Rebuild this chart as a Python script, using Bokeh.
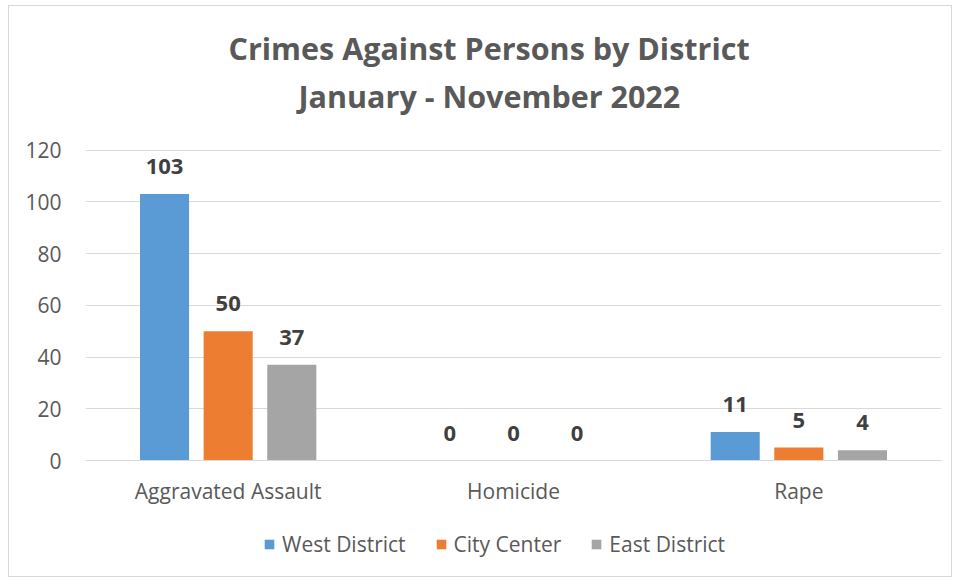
from bokeh.plotting import figure
from bokeh.models import (FactorRange, Range1d, Legend, LegendItem, Title,
                          ColumnDataSource, FixedTicker)
from bokeh.layouts import column
from bokeh.transform import dodge
from bokeh.core.properties import value
from bokeh.embed import file_html
from bokeh.resources import INLINE

categories = ["Aggravated Assault", "Homicide", "Rape"]
series = ["West District", "City Center", "East District"]
west = [103, 0, 11]
center = [50, 0, 5]
east = [37, 0, 4]
colors = ["#5B9BD5", "#ED7D31", "#A5A5A5"]
y_ticks = [0, 20, 40, 60, 80, 100, 120]

FONT = "Open Sans"
TXT = "#595959"

# y range extends a little above the top gridline (room under the title)
p = figure(x_range=FactorRange(*categories), y_range=Range1d(0, 133),
           width=942, height=510, output_backend="svg", toolbar_location=None,
           min_border_left=76, min_border_right=10, min_border_top=110,
           min_border_bottom=56)
p.outline_line_color = None
p.background_fill_color = "white"
p.border_fill_color = "white"

t2 = Title(text="January - November 2022", align="left", offset=213,
           text_font=FONT, text_font_size="30.5px", text_font_style="bold",
           text_color=TXT, standoff=0)
t1 = Title(text="Crimes Against Persons by District", align="left", offset=143,
           text_font=FONT, text_font_size="30.5px", text_font_style="bold",
           text_color=TXT, standoff=8)
p.add_layout(t2, "above")
p.add_layout(t1, "above")

src = ColumnDataSource(dict(cat=categories, west=west, center=center, east=east,
                            west_t=[str(v) for v in west],
                            center_t=[str(v) for v in center],
                            east_t=[str(v) for v in east]))

offsets = [-0.223, 0.0, 0.223]
fields = ["west", "center", "east"]
for field, off, col in zip(fields, offsets, colors):
    p.vbar(x=dodge("cat", off, range=p.x_range), top=field, width=0.172,
           source=src, fill_color=col, line_color=None)
    p.text(x=dodge("cat", off, range=p.x_range), y=field, text=field + "_t",
           source=src, text_align="center", text_baseline="bottom",
           y_offset=-20, text_font=value(FONT), text_font_size="22px",
           text_font_style="bold", text_color="#404040")

p.xgrid.grid_line_color = None
p.ygrid.grid_line_color = "#d9d9d9"
p.ygrid.ticker = FixedTicker(ticks=y_ticks)
p.yaxis.ticker = FixedTicker(ticks=y_ticks)
p.yaxis.axis_line_color = None
p.yaxis.major_tick_line_color = None
p.yaxis.minor_tick_line_color = None
p.yaxis.major_label_text_font = FONT
p.yaxis.major_label_text_font_size = "21px"
p.yaxis.major_label_text_color = TXT
p.yaxis.major_label_standoff = 18

p.xaxis.axis_line_color = "#d9d9d9"
p.xaxis.major_tick_line_color = None
p.xaxis.minor_tick_line_color = None
p.xaxis.major_label_text_font = FONT
p.xaxis.major_label_text_font_size = "21px"
p.xaxis.major_label_text_color = TXT
p.xaxis.major_label_standoff = 10

# legend strip below the chart
p2 = figure(width=942, height=60, output_backend="svg", toolbar_location=None,
            x_range=Range1d(0, 1), y_range=Range1d(0, 1),
            x_axis_location=None, y_axis_location=None,
            min_border=0)
p2.outline_line_color = None
p2.xgrid.grid_line_color = None
p2.ygrid.grid_line_color = None
nan = float("nan")
items = []
for name, col in zip(series, colors):
    key = ColumnDataSource(dict(x=[nan], top=[nan]))
    r = p2.vbar(x="x", top="top", width=0.1, source=key,
                fill_color=col, line_color=None)
    items.append(LegendItem(label=name, renderers=[r]))

legend = Legend(items=items, orientation="horizontal", location=(178, 18),
                label_text_font=FONT, label_text_font_size="21px",
                label_text_color=TXT, glyph_width=12, glyph_height=12,
                spacing=29, label_standoff=7, padding=0, margin=0,
                border_line_color=None, background_fill_alpha=0)
p2.add_layout(legend, "center")

layout = column(p, p2, spacing=0)
layout.styles = {"border": "1px solid #d9d9d9", "margin-left": "8px",
                 "margin-top": "5px"}

open("out.html", "w").write(file_html(layout, INLINE))
